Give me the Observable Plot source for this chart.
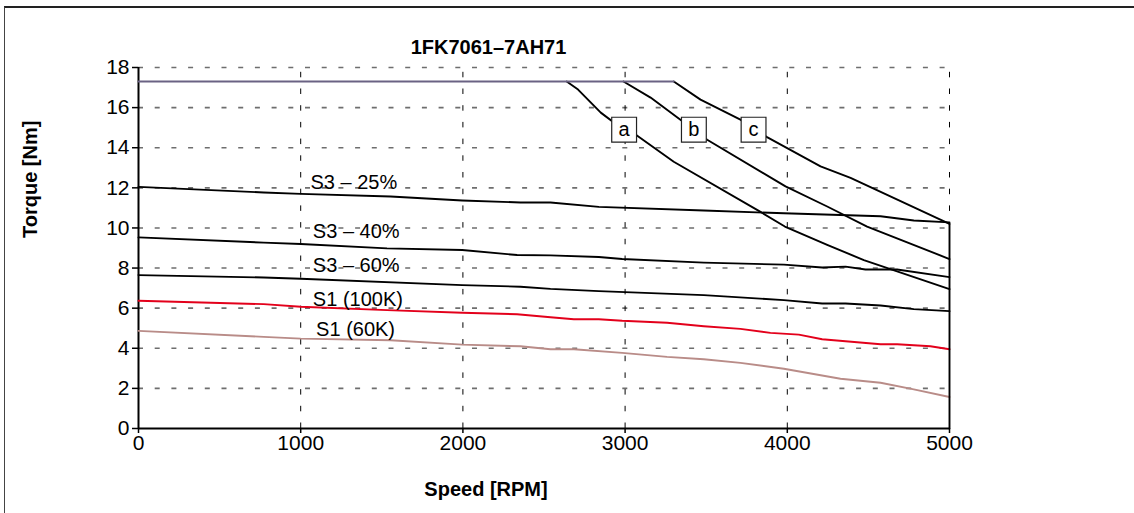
<!DOCTYPE html>
<html>
<head>
<meta charset="utf-8">
<script src="https://cdn.jsdelivr.net/npm/d3@7"></script>
<script src="https://cdn.jsdelivr.net/npm/@observablehq/plot@0.6"></script>
<style>
  html, body { margin: 0; padding: 0; background: #fff; }
  #wrap { position: relative; width: 1134px; height: 513px; overflow: hidden; }
  #frame { position: absolute; left: 4px; top: 6px; width: 1200px; height: 600px;
           border-top: 2px solid #222; border-left: 1.5px solid #444; }
  #chart { position: absolute; left: 0; top: 0; }
</style>
</head>
<body>
<div id="wrap"><div id="frame"></div><div id="chart"></div></div>
<script>
// ---- data (speed [RPM], torque [Nm]) ----
const title = "1FK7061–7AH71";
const xLabel = "Speed [RPM]";
const yLabel = "Torque [Nm]";
const xTicks = [0, 1000, 2000, 3000, 4000, 5000];
const yTicks = [0, 2, 4, 6, 8, 10, 12, 14, 16, 18];

const maxTorque = [[0, 17.3], [3300, 17.3]];
const curveA = [[2640, 17.3], [2710, 16.9], [2850, 15.75], [2990, 14.9], [3075, 14.6], [3300, 13.3], [3835, 10.8], [3985, 10.07], [4246, 9.15], [4472, 8.4], [5000, 6.95]];
const curveB = [[2990, 17.3], [3157, 16.5], [3341, 15.4], [3424, 14.9], [3506, 14.4], [3989, 12.07], [4246, 11.07], [4492, 10.07], [5000, 8.45]];
const curveC = [[3300, 17.3], [3465, 16.4], [3711, 15.4], [3792, 14.95], [3875, 14.53], [4205, 13.07], [4390, 12.5], [5000, 10.2]];
const s3_25 = [[0, 12.05], [772, 11.77], [1000, 11.7], [1554, 11.57], [1996, 11.37], [2355, 11.27], [2540, 11.27], [2838, 11.05], [3485, 10.87], [3979, 10.73], [4575, 10.58], [4780, 10.37], [5000, 10.28]];
const s3_40 = [[0, 9.53], [772, 9.27], [1000, 9.2], [1532, 8.98], [1996, 8.9], [2334, 8.65], [2540, 8.63], [2838, 8.55], [2982, 8.45], [3485, 8.27], [3979, 8.17], [4215, 8.03], [4359, 8.07], [4482, 7.93], [4677, 7.93], [5000, 7.55]];
const s3_60 = [[0, 7.65], [772, 7.53], [1000, 7.47], [1996, 7.15], [2355, 7.07], [2540, 6.96], [2838, 6.85], [3485, 6.65], [3979, 6.4], [4215, 6.23], [4359, 6.23], [4575, 6.13], [4780, 5.95], [5000, 5.85]];
const s1_100K = [[0, 6.37], [772, 6.2], [1000, 6.07], [1532, 5.9], [1996, 5.77], [2334, 5.7], [2540, 5.55], [2684, 5.45], [2838, 5.45], [2982, 5.37], [3259, 5.27], [3485, 5.1], [3711, 4.97], [3896, 4.77], [4071, 4.68], [4215, 4.45], [4575, 4.2], [4677, 4.2], [4882, 4.1], [5000, 3.95]];
const s1_60K = [[0, 4.87], [772, 4.57], [1000, 4.48], [1554, 4.4], [1996, 4.18], [2355, 4.1], [2540, 3.95], [2684, 3.95], [2982, 3.77], [3259, 3.57], [3485, 3.45], [3711, 3.27], [3979, 2.98], [4328, 2.48], [4575, 2.28], [4780, 1.95], [5000, 1.57]];
const voltageLimit = [[5000, 0], [5000, 10.2]];

const curveLabels = [
  {text: "S3 – 25%", x: 1060, y: 12.27},
  {text: "S3 – 40%", x: 1075, y: 9.82},
  {text: "S3 – 60%", x: 1075, y: 8.1},
  {text: "S1 (100K)", x: 1075, y: 6.45},
  {text: "S1 (60K)", x: 1095, y: 4.95}
];
const boxLabels = [
  {text: "a", x: 2994, y: 14.9},
  {text: "b", x: 3424, y: 14.9},
  {text: "c", x: 3792, y: 14.9}
];

const font = "'Liberation Sans', Arial, Helvetica, sans-serif";
const black = "#000";
const lineW = 1.9;

const chart = Plot.plot({
  width: 1134,
  height: 513,
  marginLeft: 138,
  marginRight: 185,
  marginTop: 67,
  marginBottom: 85,
  style: {fontFamily: font, fontSize: "20px", color: "#000", background: "transparent", overflow: "visible"},
  x: {domain: [0, 5000], axis: null},
  y: {domain: [0, 18], axis: null},
  marks: [
    // grid
    Plot.ruleY(yTicks.filter(d => d > 0), {x1: 0, x2: 5000, stroke: "#6e6e6e", strokeWidth: 1.6, strokeDasharray: "5,11.7"}),
    Plot.ruleX(xTicks.filter(d => d > 0), {y1: 0, y2: 18, stroke: "#000", strokeWidth: 1, strokeDasharray: "5.5,11.2"}),
    // axes
    Plot.axisX({ticks: xTicks, tickSize: 5, tickPadding: 2, tickFormat: d => String(d), fontSize: 21, stroke: black, strokeWidth: 1.5, label: null}),
    Plot.axisY({ticks: yTicks, tickSize: 6, tickPadding: 3, tickFormat: d => String(d), fontSize: 21, stroke: black, strokeWidth: 1.5, label: null}),
    Plot.ruleX([0], {y1: 0, y2: 18, stroke: black, strokeWidth: 2}),
    Plot.ruleY([0], {x1: 0, x2: 5000, stroke: black, strokeWidth: 2}),
    // curves
    Plot.line(s1_60K, {stroke: "#b98c88", strokeWidth: lineW}),
    Plot.line(s1_100K, {stroke: "#e3001b", strokeWidth: lineW}),
    Plot.line(s3_60, {stroke: black, strokeWidth: lineW}),
    Plot.line(s3_40, {stroke: black, strokeWidth: lineW}),
    Plot.line(s3_25, {stroke: black, strokeWidth: lineW}),
    Plot.line(curveA, {stroke: black, strokeWidth: lineW}),
    Plot.line(curveB, {stroke: black, strokeWidth: lineW}),
    Plot.line(curveC, {stroke: black, strokeWidth: lineW}),
    Plot.line(voltageLimit, {stroke: black, strokeWidth: lineW}),
    Plot.line(maxTorque, {stroke: "#6a6283", strokeWidth: lineW}),
    // curve labels
    Plot.text(curveLabels, {x: "x", y: "y", text: "text", textAnchor: "start", fontSize: 20, fill: black}),
    // boxes a, b, c
    Plot.dot(boxLabels, {x: "x", y: "y", symbol: "square", r: 14, fill: "#fff", stroke: "#222", strokeWidth: 1.2}),
    Plot.text(boxLabels, {x: "x", y: "y", text: "text", fontSize: 20, fill: black}),
    // titles
    Plot.text([title], {frameAnchor: "top-left", dx: 350, dy: -28, fontWeight: "bold", fontSize: 20, fill: black, textAnchor: "middle"}),
    Plot.text([yLabel], {frameAnchor: "left", dx: -108, dy: -10, rotate: -90, fontWeight: "bold", fontSize: 20, fill: black}),
    Plot.text([xLabel], {frameAnchor: "bottom", dx: -58, dy: 67, fontWeight: "bold", fontSize: 20, fill: black})
  ]
});
document.getElementById("chart").appendChild(chart);
</script>
</body>
</html>
